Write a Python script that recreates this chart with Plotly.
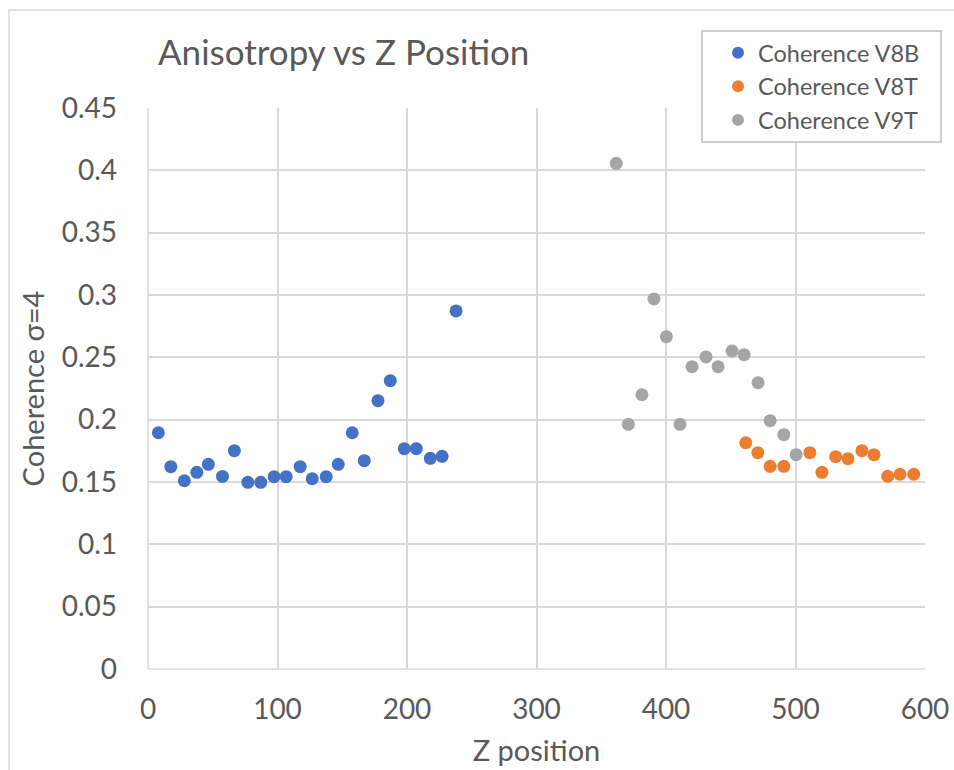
import plotly.graph_objects as go

# Coherence V8B
v8b_z = [8.0, 17.6, 28.1, 37.7, 46.6, 57.5, 66.7, 77.1, 87.1, 97.4, 106.7, 117.5,
         126.8, 137.6, 146.9, 157.7, 167.0, 177.6, 187.1, 197.9, 207.2, 218.0, 227.1, 237.9]
v8b_c = [0.1895, 0.1623, 0.151, 0.1578, 0.1642, 0.1545, 0.1751, 0.1497, 0.1497, 0.1543, 0.1543, 0.1623,
         0.1527, 0.1543, 0.1642, 0.1895, 0.1671, 0.2152, 0.2313, 0.1767, 0.1767, 0.169, 0.1706, 0.2872]

# Coherence V8T
v8t_z = [461.6, 470.9, 480.4, 491.0, 511.1, 520.4, 531.0, 540.5, 551.3, 560.6, 571.2, 580.7, 591.3]
v8t_c = [0.1815, 0.1735, 0.1626, 0.1626, 0.1735, 0.1578, 0.1703, 0.1687, 0.1751, 0.1719, 0.1546, 0.1562, 0.1562]

# Coherence V9T
v9t_z = [361.6, 370.9, 381.4, 390.7, 400.3, 410.8, 420.1, 430.9, 440.2, 451.0, 460.3, 471.1, 480.4, 491.0, 500.5]
v9t_c = [0.4056, 0.1963, 0.2200, 0.2968, 0.2666, 0.1963, 0.2425, 0.2503, 0.2425, 0.2551, 0.2521, 0.2297,
         0.1992, 0.1880, 0.1719]

names = ["Coherence V8B", "Coherence V8T", "Coherence V9T"]
colors = ["#4472C4", "#ED7D31", "#A5A5A5"]

FONT = "Lato, 'Open Sans', sans-serif"
TXT = "#595959"
GRID = "#d9d9d9"

fig = go.Figure()
for xs, ys, nm, col in zip([v8b_z, v8t_z, v9t_z], [v8b_c, v8t_c, v9t_c], names, colors):
    fig.add_trace(go.Scatter(x=xs, y=ys, mode="markers", name=nm,
                             marker=dict(size=13, color=col, line=dict(width=0))))

L, R, T, B = 148, 29, 108, 101
PW, PH = 954 - L - R, 770 - T - B

def px_x(p):
    return (p - L) / PW

def px_y(p):
    return (770 - B - p) / PH

fig.update_layout(
    width=954, height=770,
    margin=dict(l=L, r=R, t=T, b=B, autoexpand=False),
    paper_bgcolor="white", plot_bgcolor="white",
    font=dict(family=FONT, color=TXT),
    title=dict(text="Anisotropy vs Z Position", x=158/954, xanchor="left",
               y=1 - 53/770, yanchor="middle", font=dict(size=35, color=TXT, family=FONT)),
    showlegend=True,
    legend=dict(x=px_x(718), y=px_y(31), xref="paper", yref="paper",
                xanchor="left", yanchor="top",
                borderwidth=0, bgcolor="rgba(0,0,0,0)",
                font=dict(size=23.5, color=TXT, family=FONT),
                itemsizing="constant", tracegroupgap=0),
    xaxis=dict(range=[0, 600], dtick=100, tick0=0, showgrid=True, gridcolor=GRID, gridwidth=1.5,
               zeroline=False, showline=False, ticks="", ticklabelstandoff=21, automargin=False,
               tickfont=dict(size=28, color=TXT),
               title=dict(text="Z position", font=dict(size=29, color=TXT), standoff=16)),
    yaxis=dict(range=[0, 0.45], dtick=0.05, tick0=0, showgrid=True, gridcolor=GRID, gridwidth=1.5,
               zeroline=False, showline=False, ticks="", ticklabelstandoff=30, automargin=False,
               tickfont=dict(size=28, color=TXT),
               title=dict(text="Coherence σ=4", font=dict(size=29, color=TXT), standoff=8)),
    shapes=[dict(type="rect", xref="paper", yref="paper",
                 x0=px_x(9), x1=1 + 60/PW, y0=-0.3, y1=px_y(10),
                 line=dict(color="#d9d9d9", width=1.5), fillcolor="rgba(0,0,0,0)", layer="below"),
            dict(type="line", xref="paper", yref="paper", x0=0, x1=1, y0=0, y1=0,
                 line=dict(color=GRID, width=1.5), layer="below"),
            dict(type="line", xref="paper", yref="paper", x0=0, x1=0, y0=0, y1=1,
                 line=dict(color=GRID, width=1.5), layer="below"),
            dict(type="rect", xref="paper", yref="paper",
                 x0=px_x(702), x1=px_x(941), y0=px_y(142), y1=px_y(31),
                 line=dict(color="#bfbfbf", width=1.5), fillcolor="white", layer="above")],
)

fig.write_html("out.html", config={"displayModeBar": False},
               post_script="document.body.style.margin='0';document.body.style.overflow='hidden';")
